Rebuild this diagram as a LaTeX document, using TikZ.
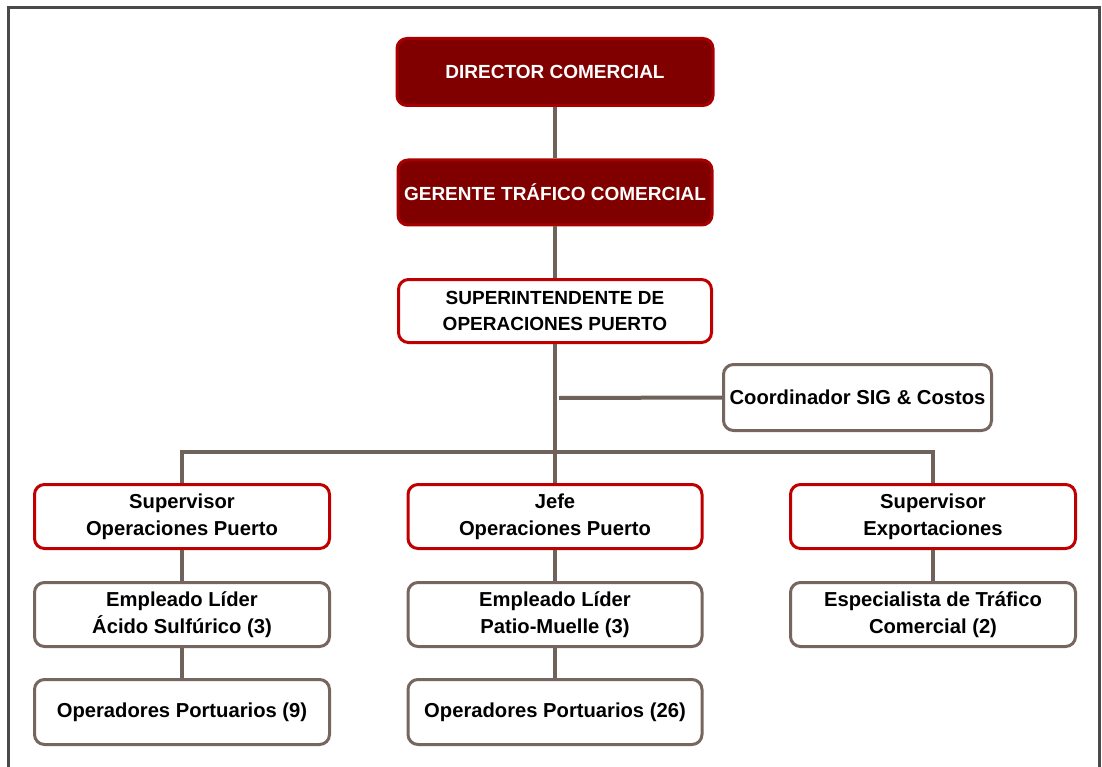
\documentclass[tikz,border=0pt]{standalone}
\usepackage{fontspec}
\setmainfont{Liberation Sans}
\definecolor{darkred}{HTML}{800000}
\definecolor{darkredborder}{HTML}{A80000}
\definecolor{redborder}{HTML}{C00000}
\definecolor{grayborder}{HTML}{76665F}
\definecolor{linegray}{HTML}{6F625B}
\definecolor{framegray}{HTML}{4A4A4A}
\begin{document}
\begin{tikzpicture}[x=1pt,y=-1pt,
  every node/.style={font=\bfseries\fontsize{20.2}{27}\selectfont, align=center, inner sep=0pt},
  capsfont/.style={font=\bfseries\fontsize{19}{26}\selectfont},
  topbox/.style={draw=darkredborder, fill=darkred, text=white, line width=3pt, rounded corners=10pt, capsfont},
  redbox/.style={draw=redborder, fill=white, text=black, line width=3pt, rounded corners=10pt},
  graybox/.style={draw=grayborder, fill=white, text=black, line width=3pt, rounded corners=10pt},
  conn/.style={draw=linegray, line width=4pt}]
\useasboundingbox (0,0) rectangle (1102,767);
% frame (open at bottom)
\draw[framegray, line width=2.2pt] (8.5,767) -- (8.5,7.5) -- (1099.5,7.5) -- (1099.5,767);

\coordinate (bus) at (555,452);
\coordinate (cjoin) at (559,398);

% nodes
\node[topbox, minimum width=316pt, minimum height=67pt] (dir) at (555,72) {DIRECTOR COMERCIAL};
\node[topbox, minimum width=314pt, minimum height=65pt] (ger) at (555,192.5) {GERENTE TRÁFICO COMERCIAL};
\node[redbox, capsfont, minimum width=313pt, minimum height=63pt] (sup) at (555,311) {SUPERINTENDENTE DE\\OPERACIONES PUERTO};
\node[graybox, minimum width=268pt, minimum height=66pt] (coord) at (857.5,397.5) {Coordinador SIG \& Costos};

\node[redbox, minimum width=295pt, minimum height=64pt] (a1) at (182,516.5) {Supervisor\\Operaciones Puerto};
\node[redbox, minimum width=294pt, minimum height=64pt] (b1) at (555,516.5) {Jefe\\Operaciones Puerto};
\node[redbox, minimum width=285pt, minimum height=64pt] (c1) at (933,516.5) {Supervisor\\Exportaciones};

\node[graybox, minimum width=295pt, minimum height=64pt] (a2) at (182,614.5) {Empleado Líder\\Ácido Sulfúrico (3)};
\node[graybox, minimum width=294pt, minimum height=64pt] (b2) at (555,614.5) {Empleado Líder\\Patio-Muelle (3)};
\node[graybox, minimum width=285pt, minimum height=64pt] (c2) at (933,614.5) {Especialista de Tráfico\\Comercial (2)};

\node[graybox, minimum width=295pt, minimum height=65pt] (a3) at (182,712) {Operadores Portuarios (9)};
\node[graybox, minimum width=294pt, minimum height=65pt] (b3) at (555,712) {Operadores Portuarios (26)};

% connectors
\draw[conn] (dir.south) -- (ger.north);
\draw[conn] (ger.south) -- (sup.north);
\draw[conn] (sup.south) -- (bus);
\draw[conn] (coord.west) -- (cjoin);
\draw[conn] (a1.north) -- (a1.north |- bus) -- (c1.north |- bus) -- (c1.north);
\draw[conn] (bus) -- (b1.north);
\draw[conn] (a1.south) -- (a2.north);
\draw[conn] (a2.south) -- (a3.north);
\draw[conn] (b1.south) -- (b2.north);
\draw[conn] (b2.south) -- (b3.north);
\draw[conn] (c1.south) -- (c2.north);
\end{tikzpicture}
\end{document}
